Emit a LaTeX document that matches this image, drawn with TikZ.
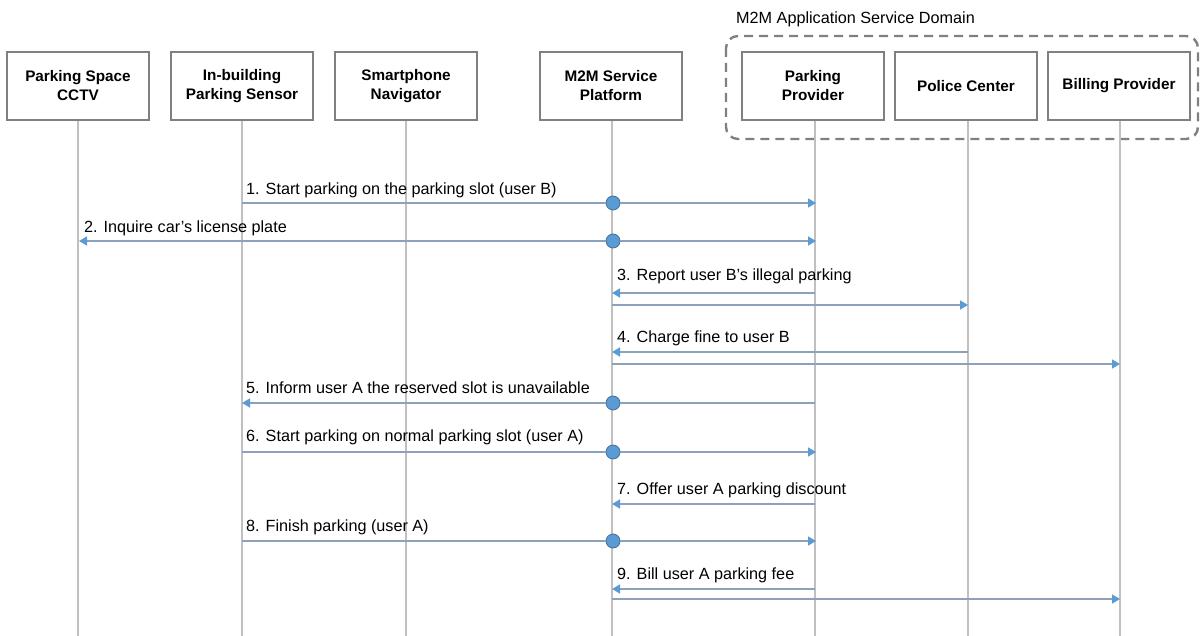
\documentclass[tikz,border=0pt]{standalone}
\usepackage{fontspec}
\setmainfont{Liberation Sans}
\usetikzlibrary{arrows.meta}
\definecolor{boxline}{RGB}{128,128,128}
\definecolor{lifecol}{RGB}{192,192,192}
\definecolor{msgline}{RGB}{140,162,188}
\definecolor{tipblue}{RGB}{91,155,213}
\definecolor{dotline}{RGB}{65,113,156}
\definecolor{domline}{RGB}{128,128,128}
\tikzset{
  actorbox/.style={draw=boxline, line width=1.1pt, minimum width=142pt, minimum height=68pt,
    inner sep=0pt, align=center, font=\fontsize{15.3}{19}\selectfont\bfseries},
  lifel/.style={draw=lifecol, line width=1.1pt},
  msgl/.style={draw=msgline, line width=1.6pt},
  msgtip/.style={-{Triangle[length=8pt,width=9pt,color=tipblue]}},
  msgdot/.style={circle, fill=tipblue, draw=dotline, line width=0.8pt, minimum size=14pt, inner sep=0pt},
  msglbl/.style={anchor=west, inner sep=0pt, font=\fontsize{16.2}{18}\selectfont},
  domframe/.style={draw=domline, line width=2.4pt, dash pattern=on 9pt off 6pt, rounded corners=12pt}
}
\begin{document}
\begin{tikzpicture}[x=1pt,y=-1pt]
\useasboundingbox (0,0) rectangle (1201,636);
% domain frame
\draw[domframe] (726,36) rectangle (1198,139);
\node[msglbl] (domlbl) at (736,19) {M2M Application Service Domain};
% actors
\node[actorbox] (cctv) at (78,86) {Parking Space\\CCTV};
\node[actorbox] (sens) at (242,86) {In-building\\Parking Sensor};
\node[actorbox] (nav) at (406,86) {Smartphone\\Navigator};
\node[actorbox] (plat) at (611,86) {M2M Service\\Platform};
\node[actorbox] (prov) at (813,86) {Parking\\Provider};
\node[actorbox] (pol) at (966,86) {Police Center};
\node[actorbox] (bill) at (1119,86) {Billing Provider};
% lifeline ends
\coordinate (cctvE) at (78,636);
\coordinate (sensE) at (242,636);
\coordinate (navE) at (406,636);
\coordinate (platE) at (612,636);
\coordinate (provE) at (815,636);
\coordinate (polE) at (968,636);
\coordinate (billE) at (1120,636);
\draw[lifel] (cctv.south) -- (cctvE);
\draw[lifel] (sens.south) -- (sensE);
\draw[lifel] (nav.south) -- (navE);
\draw[lifel] ([xshift=1pt]plat.south) -- (platE);
\draw[lifel] ([xshift=2pt]prov.south) -- (provE);
\draw[lifel] ([xshift=2pt]pol.south) -- (polE);
\draw[lifel] ([xshift=1pt]bill.south) -- (billE);
% 1
\node[msgdot] (c1) at (613,203) {};
\coordinate (m1a) at (242,203); \coordinate (m1b) at (816,203);
\draw[msgl] (m1a) -- (c1);
\draw[msgl,msgtip] (c1) -- (m1b);
\node[msglbl] (t1) at (246,190) {1. Start parking on the parking slot (user B)};
% 2
\node[msgdot] (c2) at (613,241) {};
\coordinate (m2a) at (79,241); \coordinate (m2b) at (816,241);
\draw[msgl,msgtip] (c2) -- (m2a);
\draw[msgl,msgtip] (c2) -- (m2b);
\node[msglbl] (t2) at (84,228) {2. Inquire car's license plate};
% 3
\coordinate (m3a) at (815,293); \coordinate (m3b) at (612,293);
\coordinate (m3c) at (612,305); \coordinate (m3d) at (968,305);
\draw[msgl,msgtip] (m3a) -- (m3b);
\draw[msgl,msgtip] (m3c) -- (m3d);
\node[msglbl] (t3) at (617,276) {3. Report user B's illegal parking};
% 4
\coordinate (m4a) at (968,352); \coordinate (m4b) at (612,352);
\coordinate (m4c) at (612,364); \coordinate (m4d) at (1120,364);
\draw[msgl,msgtip] (m4a) -- (m4b);
\draw[msgl,msgtip] (m4c) -- (m4d);
\node[msglbl] (t4) at (617,338) {4. Charge fine to user B};
% 5
\node[msgdot] (c5) at (613,403) {};
\coordinate (m5a) at (815,403); \coordinate (m5b) at (242,403);
\draw[msgl] (m5a) -- (c5);
\draw[msgl,msgtip] (c5) -- (m5b);
\node[msglbl] (t5) at (246,388) {5. Inform user A the reserved slot is unavailable};
% 6
\node[msgdot] (c6) at (613,452) {};
\coordinate (m6a) at (242,452); \coordinate (m6b) at (816,452);
\draw[msgl] (m6a) -- (c6);
\draw[msgl,msgtip] (c6) -- (m6b);
\node[msglbl] (t6) at (246,437) {6. Start parking on normal parking slot (user A)};
% 7
\coordinate (m7a) at (815,504); \coordinate (m7b) at (612,504);
\draw[msgl,msgtip] (m7a) -- (m7b);
\node[msglbl] (t7) at (617,490) {7. Offer user A parking discount};
% 8
\node[msgdot] (c8) at (613,541) {};
\coordinate (m8a) at (242,541); \coordinate (m8b) at (816,541);
\draw[msgl] (m8a) -- (c8);
\draw[msgl,msgtip] (c8) -- (m8b);
\node[msglbl] (t8) at (246,527) {8. Finish parking (user A)};
% 9
\coordinate (m9a) at (815,589); \coordinate (m9b) at (612,589);
\coordinate (m9c) at (612,599); \coordinate (m9d) at (1120,599);
\draw[msgl,msgtip] (m9a) -- (m9b);
\draw[msgl,msgtip] (m9c) -- (m9d);
\node[msglbl] (t9) at (617,575) {9. Bill user A parking fee};
\end{tikzpicture}
\end{document}
